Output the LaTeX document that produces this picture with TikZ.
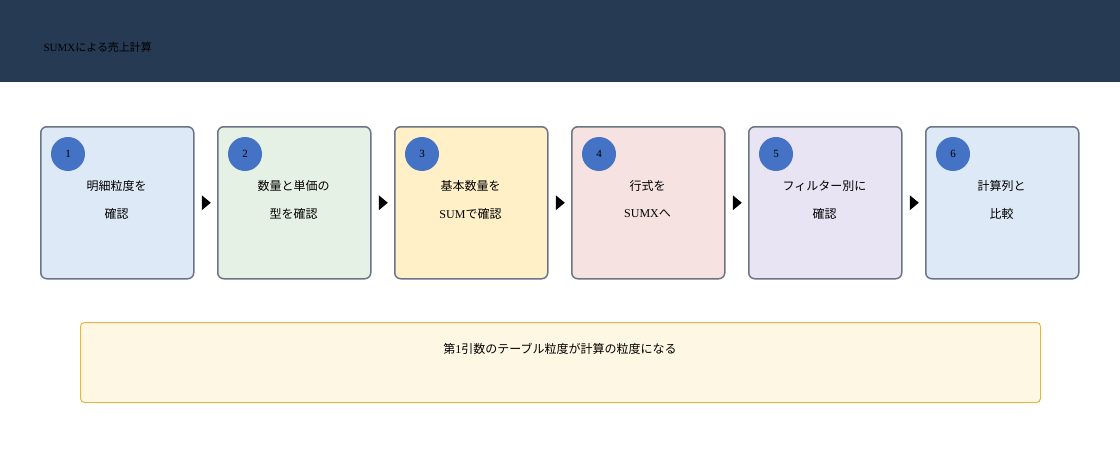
\documentclass[tikz,border=0pt]{standalone}
\usepackage{fontspec}
\setmainfont{Liberation Serif}
\newfontfamily\jp{Noto Sans CJK JP}
\definecolor{hdr}{HTML}{263A54}
\definecolor{bord}{HTML}{6B7585}
\definecolor{cA}{HTML}{DDE9F6}
\definecolor{cB}{HTML}{E6F1E6}
\definecolor{cC}{HTML}{FFF0C8}
\definecolor{cD}{HTML}{F6E2E0}
\definecolor{cE}{HTML}{E8E4F3}
\definecolor{circ}{HTML}{4472C4}
\definecolor{noteF}{HTML}{FEF7E3}
\definecolor{noteB}{HTML}{E0B84A}
\begin{document}
\begin{tikzpicture}[x=1pt,y=-1pt,
  stepbox/.style={draw=bord,line width=1.5pt,rounded corners=6pt,minimum width=153pt,minimum height=152pt,anchor=north west,inner sep=0pt},
  num/.style={circle,fill=circ,minimum size=34pt,inner sep=0pt,font=\fontsize{11}{13}\selectfont},
  lbl/.style={font=\fontsize{12}{14}\selectfont,align=center,inner sep=0pt},
  tri/.style={fill=black}]
\useasboundingbox (0,0) rectangle (1120,460);
\fill[hdr] (0,0) rectangle (1120,82);
\node[anchor=west,font=\fontsize{11}{13}\selectfont] (title) at (40,47) {SUMX{\jp による売上計算}};
\foreach \i/\x/\c/\n/\la/\lb in {
 1/40/cA/1/{\jp 明細粒度を}/{\jp 確認},
 2/217/cB/2/{\jp 数量と単価の}/{\jp 型を確認},
 3/394/cC/3/{\jp 基本数量を}/{SUM\jp で確認},
 4/571/cD/4/{\jp 行式を}/{SUMX\jp へ},
 5/748/cE/5/{\jp フィルター別に}/{\jp 確認},
 6/925/cA/6/{\jp 計算列と}/{\jp 比較}}{
  \node[stepbox,fill=\c] (b\i) at (\x,126) {};
  \node[num] (n\i) at (\x+28,154) {\n};
  \node[lbl] (la\i) at (\x+76.5,186) {\la};
  \node[lbl] (lb\i) at (\x+76.5,214) {\lb};
}
\foreach \i/\j in {1/2,2/3,3/4,4/5,5/6}{
  \path (b\i.east) -- (b\j.west) coordinate[pos=0.5] (m\i);
  \fill[tri] ([xshift=-4pt,yshift=-7.5pt]m\i) -- ([xshift=5pt]m\i) -- ([xshift=-4pt,yshift=7.5pt]m\i) -- cycle;
}
\node[draw=noteB,fill=noteF,line width=1pt,rounded corners=4pt,minimum width=960pt,minimum height=80pt,anchor=north west] (note) at (80,322) {};
\node[lbl] (nt) at (560,349) {{\jp 第}1{\jp 引数のテーブル粒度が計算の粒度になる}};
\end{tikzpicture}
\end{document}
